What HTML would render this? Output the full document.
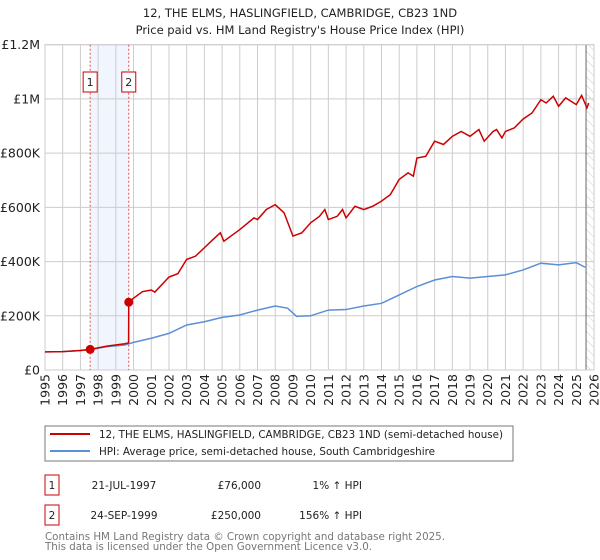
<!DOCTYPE html>
<html><head><meta charset="utf-8"><style>
body{margin:0;background:#fff;width:600px;height:560px;overflow:hidden;font-family:"DejaVu Sans","Liberation Sans",sans-serif;}
svg{position:absolute;left:0;top:0}
</style></head><body>
<svg id="c" width="600" height="560" font-family="DejaVu Sans, Liberation Sans, sans-serif"></svg>
<script>
const years=[1995,1996,1997,1998,1999,2000,2001,2002,2003,2004,2005,2006,2007,2008,2009,2010,2011,2012,2013,2014,2015,2016,2017,2018,2019,2020,2021,2022,2023,2024,2025,2026];
const yTicks=[0,200000,400000,600000,800000,1000000,1200000];
const yTickLabels=["£0","£200K","£400K","£600K","£800K","£1M","£1.2M"];
const hpiT=[1995,1996,1997,1997.55,1998.5,1999.5,2000,2001,2002,2003,2004,2005,2006,2007,2008,2008.7,2009.2,2010,2011,2012,2013,2014,2015,2016,2017,2018,2019,2020,2021,2022,2023,2024,2025,2025.5];
const hpiV=[67,68,72,75,86,92,102,117,135,166,178,194,203,221,236,228,198,200,221,223,236,246,277,308,332,345,339,345,351,369,394,388,396,379];
const redT=[1995,1996,1997,1997.55,1998.5,1999.5,1999.72,1999.73,2000,2000.5,2001,2001.2,2002,2002.5,2003,2003.5,2004,2004.5,2004.9,2005.1,2006,2006.8,2007,2007.5,2008,2008.5,2009,2009.5,2010,2010.5,2010.8,2011,2011.5,2011.8,2012,2012.5,2013,2013.5,2014,2014.5,2015,2015.5,2015.8,2016,2016.5,2017,2017.5,2018,2018.5,2019,2019.5,2019.8,2020.3,2020.5,2020.8,2021,2021.5,2022,2022.5,2023,2023.3,2023.7,2024,2024.4,2025,2025.3,2025.6,2025.7];
const redV=[67,68,72,76,88,97,100,250,265,289,295,287,343,355,408,420,451,482,506,475,518,561,555,592,610,580,494,506,543,567,592,555,567,592,561,604,592,604,623,647,703,727,715,782,788,844,832,862,880,862,887,844,880,887,856,880,893,926,948,997,985,1010,973,1004,979,1013,967,985];
const saleT=[1997.55,1999.73];
const saleV=[76,250];
const saleLabels=["1","2"];

const NS="http://www.w3.org/2000/svg";
const svg=document.getElementById('c');
const X0=45,X1=594,Y0=370,Y1=44.7;
const xs=t=>X0+(t-1995)*(X1-X0)/31;
const ys=v=>Y0-v*(Y0-Y1)/1200000;
function mk(tag,attrs,parent){const e=document.createElementNS(NS,tag);for(const k in attrs)e.setAttribute(k,attrs[k]);(parent||svg).appendChild(e);return e;}
function tx(x,y,s,attrs){const e=mk('text',Object.assign({x:x,y:y,'font-size':12,fill:'#222'},attrs||{}));e.textContent=s;return e;}

let t1=tx(300,17,"12, THE ELMS, HASLINGFIELD, CAMBRIDGE, CB23 1ND",{'text-anchor':'middle','font-size':11.5});


let t2=tx(300,34,"Price paid vs. HM Land Registry's House Price Index (HPI)",{'text-anchor':'middle','font-size':11.5});



let band=mk('rect',{x:xs(saleT[0]),y:Y1,width:xs(saleT[1])-xs(saleT[0]),height:Y0-Y1,fill:'#eef3fc',opacity:0.8});


const defs=mk('defs',{});
const pat=mk('pattern',{id:'h',width:6,height:6,patternUnits:'userSpaceOnUse',patternTransform:'rotate(-45)'},defs);
mk('line',{x1:0,y1:0,x2:0,y2:6,stroke:'#ccc','stroke-width':1},pat);
let hat=mk('rect',{x:xs(2025.55),y:Y1,width:X1-xs(2025.55),height:Y0-Y1,fill:'url(#h)'});



years.forEach(y=>{let l=mk('line',{x1:xs(y),x2:xs(y),y1:Y1,y2:Y0,stroke:'#ccc','stroke-width':1});


let lab=tx(0,0,String(y),{'font-size':12.5,transform:`translate(${xs(y)+4.5},${Y0+4}) rotate(-90)`,'text-anchor':'end'});

});
yTicks.forEach((v,i)=>{let l=mk('line',{x1:X0,x2:X1,y1:ys(v),y2:ys(v),stroke:'#ccc','stroke-width':1});


let lab=tx(40,ys(v)+4.5,yTickLabels[i],{'text-anchor':'end','font-size':12.5});

});
mk('line',{x1:xs(2025.55),x2:xs(2025.55),y1:Y1,y2:Y0,stroke:'#666','stroke-width':1});
mk('rect',{x:X0,y:Y1,width:X1-X0,height:Y0-Y1,fill:'none',stroke:'#ccc'});

saleT.forEach((t,i)=>{let l=mk('line',{x1:xs(t),x2:xs(t),y1:Y1,y2:Y0,stroke:'#e05050','stroke-width':1,'stroke-dasharray':'2,2'});


let b=mk('rect',{x:xs(t)-7,y:72,width:14,height:20,fill:'#fff',stroke:'#cc0000'});


tx(xs(t),86,saleLabels[i],{'text-anchor':'middle','font-size':11});});

let hp=mk('polyline',{points:hpiT.map((t,i)=>xs(t)+','+ys(hpiV[i]*1000)).join(' '),fill:'none',stroke:'#5b8fd6','stroke-width':1.5});


let rp=mk('polyline',{points:redT.map((t,i)=>xs(t)+','+ys(redV[i]*1000)).join(' '),fill:'none',stroke:'#cc0000','stroke-width':1.5});


saleT.forEach((t,i)=>{let c=mk('circle',{cx:xs(t),cy:ys(saleV[i]*1000),r:4.5,fill:'#cc0000'});

});

let lg=mk('rect',{x:45,y:426,width:468,height:35,fill:'#fff',stroke:'#777'});


mk('line',{x1:50,x2:90,y1:434,y2:434,stroke:'#cc0000','stroke-width':2});
let le1=tx(99,438,"12, THE ELMS, HASLINGFIELD, CAMBRIDGE, CB23 1ND (semi-detached house)",{'font-size':10.5,textLength:404,lengthAdjust:'spacingAndGlyphs'});


mk('line',{x1:50,x2:90,y1:451,y2:451,stroke:'#5b8fd6','stroke-width':2});
let le2=tx(99,455,"HPI: Average price, semi-detached house, South Cambridgeshire",{'font-size':10.5,textLength:336,lengthAdjust:'spacingAndGlyphs'});



const rows=[["1","21-JUL-1997","£76,000","1% ↑ HPI",475],["2","24-SEP-1999","£250,000","156% ↑ HPI",505]];
rows.forEach(r=>{let b=mk('rect',{x:45,y:r[4],width:14,height:20,fill:'#fff',stroke:'#cc0000'});


tx(52,r[4]+14,r[0],{'text-anchor':'middle','font-size':10.5});
tx(124,r[4]+14,r[1],{'text-anchor':'middle','font-size':10.5});
tx(261,r[4]+14,r[2],{'text-anchor':'end','font-size':10.5});
tx(362,r[4]+14,r[3],{'text-anchor':'end','font-size':10.5});});
let f1=tx(45,540,"Contains HM Land Registry data © Crown copyright and database right 2025.",{'font-size':10.5,fill:'#777',textLength:400,lengthAdjust:'spacingAndGlyphs'});


let f2=tx(45,550,"This data is licensed under the Open Government Licence v3.0.",{'font-size':10.5,fill:'#777',textLength:327,lengthAdjust:'spacingAndGlyphs'});


</script>
</body></html>
